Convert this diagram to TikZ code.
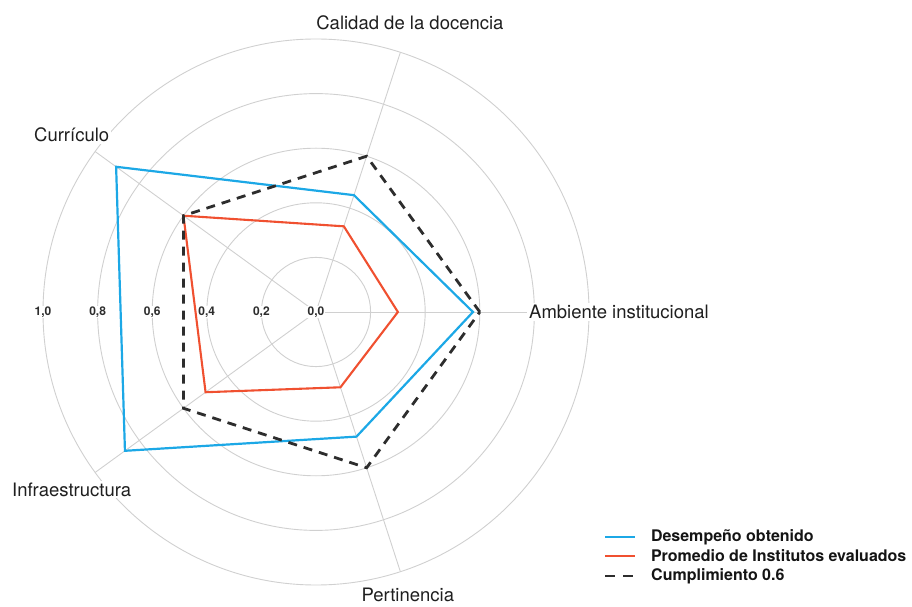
\documentclass[tikz,border=0pt]{standalone}
\usepackage{fontspec}
\setmainfont{TeX Gyre Heros}
\definecolor{azul}{RGB}{28,168,230}
\definecolor{rojo}{RGB}{240,80,48}
\definecolor{oscuro}{RGB}{45,45,45}
\definecolor{gris}{RGB}{208,208,208}
\tikzset{
  anillo/.style={draw=gris, line width=0.9pt},
  desempeno/.style={draw=azul, line width=2.2pt, line join=miter},
  promedio/.style={draw=rojo, line width=2.1pt, line join=miter},
  cumplimiento/.style={draw=oscuro, line width=2.8pt, dash pattern=on 9pt off 7pt},
  escala/.style={font=\fontsize{12}{13}\selectfont\bfseries, text=oscuro, fill=white, inner sep=1pt},
  eje/.style={font=\fontsize{18.5}{20}\selectfont, text=black!88, fill=white, inner sep=2pt},
  leyenda/.style={font=\fontsize{16}{18}\selectfont\bfseries, text=black!92, anchor=west, inner sep=0pt}
}
\begin{document}
\begin{tikzpicture}[x=273pt,y=273pt]
\useasboundingbox (-316pt,-295pt) rectangle (596pt,312pt);

% anillos
\draw [anillo] (0,0) circle [radius=0.2];
\draw [anillo] (0,0) circle [radius=0.4];
\draw [anillo] (0,0) circle [radius=0.6];
\draw [anillo] (0,0) circle [radius=0.8];
\draw [anillo] (0,0) circle [radius=1.0];

% ejes
\draw [anillo] (0,0) -- (0:1);
\draw [anillo] (0,0) -- (72:1);
\draw [anillo] (0,0) -- (144:1);
\draw [anillo] (0,0) -- (216:1);
\draw [anillo] (0,0) -- (288:1);

% escala
\node [escala] (e10) at (-1,0) {1,0};
\node [escala] (e08) at (-0.8,0) {0,8};
\node [escala] (e06) at (-0.6,0) {0,6};
\node [escala] (e04) at (-0.4,0) {0,4};
\node [escala] (e02) at (-0.2,0) {0,2};
\node [escala] (e00) at (0,0) {0,0};

% series
\draw [desempeno] (0:0.575) -- (72:0.45) -- (144:0.905) -- (216:0.865) -- (288:0.48) -- cycle;
\draw [promedio] (0:0.30) -- (72:0.33) -- (144:0.60) -- (216:0.50) -- (288:0.29) -- cycle;
\draw [cumplimiento] (0:0.6) -- (72:0.6) -- (144:0.6) -- (216:0.6) -- (288:0.6) -- cycle;

% nombres de los ejes
\node [eje, anchor=west] (ambiente) at (211pt,0) {Ambiente institucional};
\node [eje] (calidad) at (72:304pt) {Calidad de la docencia};
\node [eje] (curriculo) at (144:302pt) {Currículo};
\node [eje] (infra) at (216:302pt) {Infraestructura};
\node [eje] (pertinencia) at (288:297pt) {Pertinencia};

% leyenda
\coordinate (l1) at (289pt,-225pt);
\coordinate (l2) at (289pt,-244pt);
\coordinate (l3) at (289pt,-264pt);
\draw [desempeno, line width=2pt] (l1) -- ++(30pt,0) node [leyenda, right=15pt] (t1) {Desempeño obtenido};
\draw [promedio, line width=2pt] (l2) -- ++(30pt,0) node [leyenda, right=15pt] (t2) {Promedio de Institutos evaluados};
\draw [cumplimiento, line width=2.4pt, dash pattern=on 10pt off 8pt] (l3) -- ++(30pt,0) node [leyenda, right=15pt] (t3) {Cumplimiento 0.6};
\end{tikzpicture}
\end{document}
